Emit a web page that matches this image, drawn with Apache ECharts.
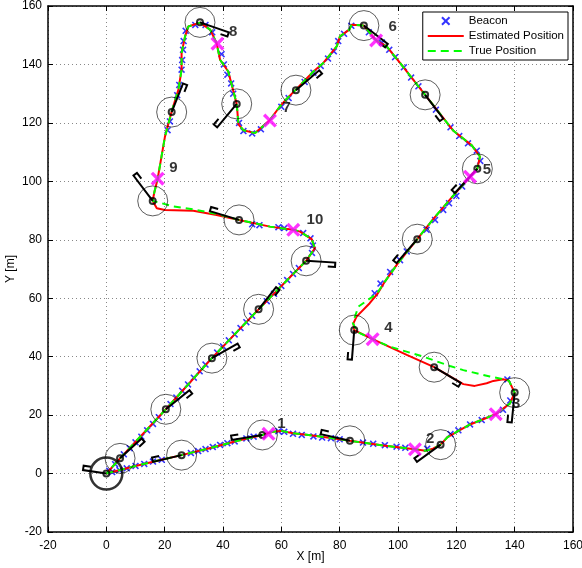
<!DOCTYPE html>
<html><head><meta charset="utf-8">
<script src="https://cdn.jsdelivr.net/npm/echarts/dist/echarts.min.js"></script>
<style>html,body{margin:0;padding:0;background:#fff}#c{width:582px;height:568px}</style>
</head><body><div id="c"></div>
<script>
// ---- path segments (X [m], Y [m]) ----
const legA = [[0,0],[3,0.8],[10,2.6],[20,5],[25.8,6.3],[35,8.6],[45,11.2],[53.5,13.2],[57,14.3],[60,14.6],[64,13.8],[70,13.1],[77,12.2],[83.5,11.2],[95,9.6],[105.8,8.3],[109.5,7.8],[112,8.5],[114.6,9.9],[117,12.5],[124.7,16.8],[133.5,20.3],[138.4,24],[140,27.7],[138,31.8],[136,32.3]];
const trueB = [[131.5,33.2],[122.4,35.4],[117.8,36.8],[108.7,40],[97.3,43.4],[91.3,46],[86,48.5],[84.5,51.5],[86.4,57.1],[92.7,61.5]];
const estB = [[132.7,31.7],[130.4,30.9],[126.3,30],[122.4,30.6],[119,32.6],[112.4,36.4],[103,40.6],[91.3,46],[85,49.1],[84.7,51.4],[85.8,53.7],[90.3,58.3],[93.1,61.7]];
const legC = [[95.5,65.7],[100,72],[106.6,80.2],[112,87],[118,94],[124.7,101.6],[127.2,104.3],[128.1,108.5],[125.3,112.3],[119,117.3],[109.3,129.6],[100.7,140.5],[96.1,146.2],[92.5,148.2],[88.3,153.3],[84.1,153.6],[83.3,151.9],[80.1,149.6],[79,146.2],[74.4,140.5],[71,137.6],[64.9,131.3],[61.8,128.2],[59.5,125.6],[56.1,121],[51,116.5],[47,117.5],[45.3,119.5],[44.7,126.5],[41.8,137.6],[39,141.6],[37.8,147.3],[35.6,151.9],[32.1,154.3],[28.1,153],[27,149.6],[25.8,143.9],[25.8,138.2],[24.7,131.3],[22.4,123.9],[20.1,115.3],[17.6,100.9],[16.4,96],[15.9,93.3]];
const trueD = [[19,92.5],[23,91.4],[29.8,90.4],[38,88.8]];
const estD = [[17.3,90.8],[20.1,90.2],[29.8,89.9],[37.8,88.5]];
const legE = [[45.5,86.8],[56.1,84.5],[64.1,83.4],[66.4,82.8],[70.4,80.2],[71.5,77.1],[68.5,72.8],[52.2,56.2],[36.2,39.5],[20.4,22],[4.7,5.2],[0,0]];

const beacons = [[2,0.5],[4.5,1.2],[7,1.8],[10,2.6],[13,3.3],[16,4.1],[19,4.7],[29,7],[31.5,7.7],[34,8.4],[36.5,9.1],[39,9.8],[41.5,10.4],[44,11],[48,12],[50.5,12.6],
[59,14.5],[61,14.3],[64,13.6],[67,13.2],[71,12.7],[74,12.3],[77,12.1],[80,11.7],[88,10.6],[91.5,10.2],[95.5,9.7],[99.5,9.2],[102.5,8.8],[110,8.5],
[118,13.5],[120.7,14.8],[124.7,16.8],[128.7,18.3],[136,21.8],[138.5,25],[137.5,32.2],
[92,61.7],[94,65],[97.3,69],[100.7,73],[103,76],[109.8,83.4],[112.7,86.8],[115.5,90.2],[117.5,92.5],[120,95],[122,98.2],
[128.2,107],[127,110.5],[124,113],[121,115.5],[118,118.5],[113,124.5],[107,132.5],[104.5,135.5],[102,139],[99,142.5],[97,145],[94.5,147.5],[90,151],
[84,153.2],[81.5,150.5],[79.5,148],[78,144.5],[76,142],[73.5,139.5],[71,137.2],[68,134],[62.5,128.5],[60,125.5],
[53,117.8],[50,116.4],[47,117.2],[45.5,120],[43.5,130],[42.8,133.5],[41.5,136.5],[40.3,140],[39.5,143.5],[36.3,151],[34,153.5],[30.5,153.5],
[27.2,151.5],[26.5,148],[26.3,145],[26,141.5],[25.8,138.2],[25,133],[24.3,129.5],[21.8,120.5],[21,117.5],
[50,85.3],[52.5,85],[59,84.3],[61,84],[67.5,82.3],[70,80.5],[70.8,78],[70.5,75.5],
[66,70.3],[64,68.3],[62,66.2],[60,64.2],[57.5,61.5],[55,59],[50,54],[48,51.8],[46,49.8],[44,47.6],[42,45.6],[40,43.5],[38,41.4],[34,37.3],[32,35],[30,32.8],[28,30.5],[26,28.3],[24,26],[22,23.8],[18,19.3],[16,17],[14,14.8],[12,12.6],[10,10.7],[8,8.7],[6,6.6],[3,3.2],[1,1]];

const circleCenters = [[0,0],[4.7,5.2],[25.8,6.3],[53.5,13.2],[83.5,11.2],[114.6,9.9],[140,27.7],[112.4,36.4],[85,49.1],[106.6,80.2],[127.2,104.3],[109.3,129.6],[88.3,153.3],[65,131.2],[44.7,126.5],[32.1,154.4],[22.4,123.7],[15.9,93.3],[45.5,86.8],[68.5,72.8],[52.2,56.2],[36.2,39.5],[20.4,22]];
const headingEnds = [[-8,1.2],[12.1,12],[16,4],[43,11.5],[73.5,13.5],[106.5,4],[139,17.5],[121.5,31],[84.2,39],[99.5,72],[119.5,96],[115.5,121.5],[96.5,147],[73,138],[38,118.5],[42,151],[26.3,133.5],[9.3,102],[35.5,89.8],[78.5,72.2],[58.2,63.8],[45,44.5],[28.5,28.5]];

const markPoints = [[55.6,13.6],[105.8,8.3],[133.5,20.3],[91.3,46],[124.7,101.6],[92.5,148.2],[56.1,120.8],[38.1,147.1],[17.6,100.9],[64.1,83.4]];
const markNames = ['1','2','3','4','5','6','7','8','9','10'];
const markLabelPos = [[60,17],[111,12],[140.5,24],[96.7,50],[130.5,104],[98.2,153],[61.8,125],[43.5,151],[23,104.5],[71.5,86.8]];

// ---- build ----
const truePath = legA.concat(trueB, legC, trueD, legE);
const estPath = legA.concat(estB, legC, estD, legE);

function glyph(c, e) {
  const dx = e[0]-c[0], dy = e[1]-c[1];
  const L = Math.hypot(dx, dy) || 1;
  const d = [dx/L, dy/L], p = [d[1], -d[0]];
  const a = [e[0]+p[0]*1.5, e[1]+p[1]*1.5];
  const b = [a[0]-d[0]*2.5, a[1]-d[1]*2.5];
  return {coords: [c, e, a, b]};
}
const glyphData = circleCenters.map((c,i)=>glyph(c, headingEnds[i]));

const xSym = 'path://M0,1.6L1.6,0L5,3.4L8.4,0L10,1.6L6.6,5L10,8.4L8.4,10L5,6.6L1.6,10L0,8.4L3.4,5Z';
const xSymBig = 'path://M0,1.7L1.7,0L5,3.3L8.3,0L10,1.7L6.7,5L10,8.3L8.3,10L5,6.7L1.7,10L0,8.3L3.3,5Z';
const solidIcon = 'path://M0,0L36,0L36,2L0,2Z';
const dashIcon = 'path://M0,0h8v2h-8zM13,0h8v2h-8zM26,0h8v2h-8zM36,0h0.01v2h-0.01z';
const FONT = 'Liberation Sans, Arial, Helvetica, sans-serif';

const chart = echarts.init(document.getElementById('c'), null, {renderer:'canvas'});
const axisCommon = {
  type:'value', min:-20, max:160, interval:20,
  axisLine:{show:true, onZero:false, lineStyle:{color:'#000', width:1.5}},
  axisTick:{show:true, inside:true, length:5, lineStyle:{color:'#000', width:1}},
};
chart.setOption({
  animation:false,
  backgroundColor:'#fff',
  grid:{left:48, right:9, top:6, bottom:36, containLabel:false, outerBoundsMode:'none'},
  legend:{
    right:14, top:12, orient:'vertical',
    backgroundColor:'#fff', borderColor:'#000', borderWidth:1, borderRadius:0,
    padding:[3,4,3,5], itemGap:3, itemWidth:36, itemHeight:9,
    textStyle:{fontFamily:FONT, fontSize:11.5, color:'#000', lineHeight:12},
    data:[{name:'Beacon', icon:xSym},{name:'Estimated Position', icon:solidIcon},{name:'True Position', icon:dashIcon}]
  },
  xAxis:[
    Object.assign({}, axisCommon, {position:'bottom', name:'X [m]', nameLocation:'middle', nameGap:19, nameMoveOverlap:false,
      nameTextStyle:{fontFamily:FONT, fontSize:12, color:'#000'},
      axisLabel:{fontFamily:FONT, fontSize:12, color:'#000', margin:8},
      splitLine:{show:true, lineStyle:{color:'#888', type:[1,3], width:1}}}),
    Object.assign({}, axisCommon, {position:'top', axisLabel:{show:false}, splitLine:{show:false}})
  ],
  yAxis:[
    Object.assign({}, axisCommon, {position:'left', name:'Y [m]', nameLocation:'middle', nameGap:31, nameMoveOverlap:false,
      nameTextStyle:{fontFamily:FONT, fontSize:12, color:'#000'},
      axisLabel:{fontFamily:FONT, fontSize:12, color:'#000', margin:6},
      splitLine:{show:true, lineStyle:{color:'#888', type:[1,3], width:1}}}),
    Object.assign({}, axisCommon, {position:'right', axisLabel:{show:false}, splitLine:{show:false}})
  ],
  series:[
    {name:'Beacon', type:'scatter', data:beacons, symbol:xSym, symbolSize:7,
      itemStyle:{color:'#0000ff'}, z:2, silent:true},
    {name:'Estimated Position', type:'line', data:estPath, symbol:'none', showSymbol:false,
      lineStyle:{color:'#ff0000', width:2}, itemStyle:{color:'#ff0000'}, z:3},
    {name:'True Position', type:'line', data:truePath, symbol:'none', showSymbol:false,
      lineStyle:{color:'#00ff00', width:2, type:[7,5]}, itemStyle:{color:'#00ff00'}, z:4},
    {name:'range', type:'scatter', data:circleCenters.slice(1), symbol:'circle', symbolSize:30,
      itemStyle:{color:'rgba(0,0,0,0)', borderColor:'#000', borderWidth:0.8}, z:5, silent:true},
    {name:'origin', type:'scatter', data:circleCenters.slice(0,1), symbol:'circle', symbolSize:32,
      itemStyle:{color:'rgba(0,0,0,0)', borderColor:'#000', borderWidth:2.5}, z:5, silent:true},
    {name:'heading', type:'lines', coordinateSystem:'cartesian2d', polyline:true, data:glyphData,
      lineStyle:{color:'#000', width:2, opacity:1}, z:6, silent:true},
    {name:'centers', type:'scatter', data:circleCenters, symbol:'circle', symbolSize:6,
      itemStyle:{color:'rgba(0,0,0,0)', borderColor:'#000', borderWidth:2}, z:7, silent:true},
    {name:'marks', type:'scatter', data:markPoints, symbol:xSymBig, symbolSize:14,
      itemStyle:{color:'#ff00ff'}, z:8, silent:true},
    {name:'labels', type:'scatter', data:markLabelPos.map((p,i)=>({value:p, name:markNames[i]})),
      symbolSize:0, z:9, silent:true,
      label:{show:true, position:'inside', formatter:'{b}', fontFamily:FONT, fontSize:15, fontWeight:'bold', color:'#000'}}
  ]
});
</script>
</body></html>
